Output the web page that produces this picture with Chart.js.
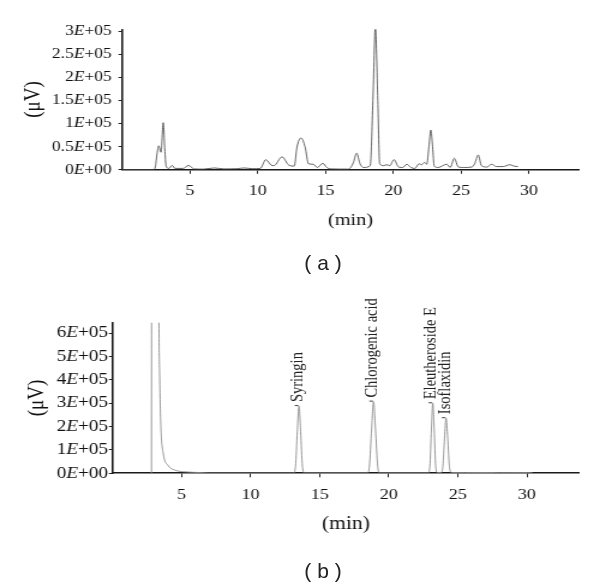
<!DOCTYPE html>
<html>
<head>
<meta charset="utf-8">
<script src="https://cdn.jsdelivr.net/npm/chart.js@4.4.1/dist/chart.umd.min.js"></script>
<style>
  html, body { margin: 0; padding: 0; background: #fff; }
  .panel { position: relative; width: 600px; height: 293px; }
  .cap {
    position: absolute;
    transform: translate(-50%, -50%);
    font-family: "Liberation Sans", Arial, sans-serif;
    font-size: 21px;
    line-height: 1;
    color: #222;
    white-space: pre;
  }
</style>
</head>
<body>
<div class="panel">
  <canvas id="chartA" width="500" height="293" style="width:600px;height:293px;display:block"></canvas>
  <div class="cap" style="left:323px;top:262px">( a )</div>
</div>
<div class="panel">
  <canvas id="chartB" width="500" height="293" style="width:600px;height:293px;display:block"></canvas>
  <div class="cap" style="left:323px;top:277px">( b )</div>
</div>
<script>
// (a) sample chromatogram, retention time in min, signal in uV
const timeA = [0, 2.3, 2.45, 2.58, 2.7, 2.87, 3.04, 3.15, 3.25, 3.45, 3.7, 3.9, 4.5, 4.9, 5.3,
  6.0, 6.8, 7.5, 8.5, 9.0, 9.6, 10.2, 10.6, 11.0, 11.2, 11.8, 12.3, 12.7, 12.9, 13.2, 13.5,
  13.75, 14.1, 14.4, 14.8, 15.1, 15.35, 16.7, 17.05, 17.3, 17.55, 17.8, 18.3, 18.5, 18.68,
  18.86, 19.0, 19.3, 19.5, 19.75, 20.05, 20.4, 20.7, 21.0, 21.3, 21.6, 21.9, 22.1, 22.3,
  22.47, 22.63, 22.77, 22.9, 23.02, 23.3, 23.95, 24.2, 24.5, 24.8, 25.2, 25.8, 26.0, 26.27,
  26.5, 26.9, 27.26, 27.6, 28.1, 28.6, 28.9, 29.2];
const signalA = [0, 0, 6000, 35000, 52000, 38000, 102000, 45000, 8000, 3000, 9500, 3000, 3000, 9500, 2000,
  1500, 4000, 2000, 2500, 4000, 2500, 3000, 22000, 10000, 9000, 28000, 10000, 8000, 49000, 69000, 49000,
  13000, 12000, 5000, 14000, 5000, 2000, 1500, 15000, 36000, 13000, 5000, 9000, 150000, 308000,
  150000, 13000, 9000, 11000, 9000, 22000, 6000, 5000, 12000, 5000, 3000, 13000, 11000, 16000,
  12000, 50000, 86000, 50000, 8000, 5000, 12000, 5000, 25000, 6000, 5000, 6000, 13000, 32000,
  9000, 6000, 12000, 7000, 7000, 11000, 8000, 7000];

// (b) standards chromatogram
const timeB = [2.82, 2.86, 3.3, 3.34, 3.42, 3.5, 3.67, 4.03, 4.5, 5.1, 6.45, 7.0, 13.1,
  13.25, 13.38, 13.5, 13.62, 13.75, 13.9, 18.45, 18.6, 18.76, 18.9, 19.04, 19.2, 19.35,
  22.85, 22.98, 23.09, 23.19, 23.29, 23.4, 23.52, 23.8, 23.92, 24.04, 24.15, 24.27, 24.4,
  24.55, 25.5, 27.3, 28.0, 30.0, 30.4];
const signalB = [0, 3000000, 3000000, 1000000, 400000, 200000, 86000, 33000, 14000, 7000, 3000, 1000, 1000,
  30000, 180000, 288000, 180000, 30000, 1500, 1500, 30000, 190000, 307000, 190000, 30000, 1500,
  1500, 30000, 190000, 300000, 190000, 30000, 3000, 3000, 30000, 150000, 236000, 150000, 25000,
  3000, 3000, 3500, 2500, 3000, 2000];

const peakNames = ["Syringin", "Chlorogenic acid", "Eleutheroside E", "Isoflaxidin"];
const peakTimes = [13.5, 18.9, 23.19, 24.15];
const peakHeights = [288000, 307000, 300000, 236000];

const xTicks = [5, 10, 15, 20, 25, 30];
const yTicksA = [0, 50000, 100000, 150000, 200000, 250000, 300000];
const yLabelsA = ["0E+00", "0.5E+05", "1E+05", "1.5E+05", "2E+05", "2.5E+05", "3E+05"];
const yTicksB = [0, 100000, 200000, 300000, 400000, 500000, 600000];
const yLabelsB = ["0E+00", "1E+05", "2E+05", "3E+05", "4E+05", "5E+05", "6E+05"];

const SERIF = '"Liberation Serif", "Times New Roman", serif';

// y tick labels with an italic E
const sciLabels = {
  id: "sciLabels",
  afterDraw(chart, args, opts) {
    const scale = chart.scales.y;
    const ctx = chart.ctx;
    ctx.save();
    ctx.fillStyle = "#111";
    ctx.textBaseline = "middle";
    scale.ticks.forEach((t, i) => {
      const bits = opts.labels[i].split("E");
      const parts = [[bits[0], ""], ["E", "italic "], [bits[1], ""]];
      const py = scale.getPixelForValue(t.value);
      let w = 0;
      parts.forEach((p) => {
        ctx.font = p[1] + opts.size + "px " + SERIF;
        w += ctx.measureText(p[0]).width;
      });
      let x = opts.right - w;
      parts.forEach((p) => {
        ctx.font = p[1] + opts.size + "px " + SERIF;
        ctx.fillText(p[0], x, py);
        x += ctx.measureText(p[0]).width;
      });
    });
    ctx.restore();
  },
};

// rotated compound names over the peaks of (b)
const peakLabels = {
  id: "peakLabels",
  afterDatasetsDraw(chart) {
    const { x, y } = chart.scales;
    const ctx = chart.ctx;
    ctx.save();
    ctx.fillStyle = "#222";
    ctx.strokeStyle = "#444";
    ctx.lineWidth = 1;
    ctx.font = "14.5px " + SERIF;
    ctx.textAlign = "left";
    ctx.textBaseline = "middle";
    peakNames.forEach((name, i) => {
      const px = x.getPixelForValue(peakTimes[i]);
      const py = y.getPixelForValue(peakHeights[i]);
      ctx.beginPath();
      ctx.moveTo(px - 3.5, py - 0.5);
      ctx.lineTo(px - 0.5, py - 0.5);
      ctx.stroke();
      ctx.save();
      ctx.translate(px - 1, py - 4);
      ctx.rotate(-Math.PI / 2);
      ctx.fillText(name, 0, 0);
      ctx.restore();
    });
    ctx.restore();
  },
};

function makeChart(id, o) {
  const ctx = document.getElementById(id).getContext("2d");
  return new Chart(ctx, {
    type: "line",
    data: {
      datasets: [
        {
          data: o.time.map((t, i) => ({ x: t, y: o.signal[i] })),
          borderColor: o.color,
          borderWidth: 0.9,
          pointRadius: 0,
          cubicInterpolationMode: "monotone",
          fill: false,
        },
      ],
    },
    options: {
      responsive: false,
      animation: false,
      events: [],
      layout: { padding: { top: o.top, right: o.right, left: 0, bottom: 0 } },
      plugins: {
        legend: { display: false },
        tooltip: { enabled: false },
        sciLabels: { labels: o.yLabels, size: o.ySize, right: o.labelRight },
      },
      scales: {
        x: {
          type: "linear",
          min: 0,
          max: o.xMax,
          z: 1,
          afterBuildTicks: (s) => { s.ticks = xTicks.map((v) => ({ value: v })); },
          afterFit: (s) => { s.height = o.xHeight; },
          border: { color: "#1a1a1a", width: 1.6 },
          grid: { drawOnChartArea: false, drawTicks: true, tickLength: 4, color: "#222", lineWidth: 1 },
          ticks: {
            color: "#111",
            padding: o.xPad,
            maxRotation: 0,
            font: { family: SERIF, size: 15 },
          },
          title: {
            display: true,
            text: "(min)",
            color: "#111",
            font: { family: SERIF, size: o.minSize },
            padding: { top: 0, bottom: o.minPad },
          },
        },
        y: {
          type: "linear",
          min: 0,
          max: o.yMax,
          z: 1,
          afterBuildTicks: (s) => { s.ticks = o.yTicks.map((v) => ({ value: v })); },
          afterFit: (s) => { s.width = o.yWidth; },
          border: { color: "#1a1a1a", width: 1.6 },
          grid: { drawOnChartArea: false, drawTicks: true, tickLength: 3, color: "#222", lineWidth: 1 },
          ticks: { display: false },
          title: {
            display: true,
            text: "(μV)",
            color: "#111",
            font: { family: SERIF, size: 19 },
            padding: { top: o.yTitlePad, bottom: 0 },
          },
        },
      },
    },
    plugins: o.extra ? [sciLabels, o.extra] : [sciLabels],
  });
}

makeChart("chartA", {
  time: timeA,
  signal: signalA,
  color: "#555555",
  xMax: 33.7,
  yMax: 304000,
  yTicks: yTicksA,
  yLabels: yLabelsA,
  ySize: 14.5,
  labelRight: 93,
  top: 29.3,
  right: 17.5,
  yWidth: 101.7,
  xHeight: 123.2,
  xPad: 8.5,
  minSize: 17,
  minPad: 61.8,
  yTitlePad: 16.3,
});

makeChart("chartB", {
  time: timeB,
  signal: signalB,
  color: "#8c8c8c",
  xMax: 33.8,
  yMax: 645000,
  yTicks: yTicksB,
  yLabels: yLabelsB,
  ySize: 16,
  labelRight: 90,
  top: 29.7,
  right: 17.25,
  yWidth: 93.75,
  xHeight: 112.7,
  xPad: 8.5,
  minSize: 18,
  minPad: 50.9,
  yTitlePad: 19.2,
  extra: peakLabels,
});
</script>
</body>
</html>
